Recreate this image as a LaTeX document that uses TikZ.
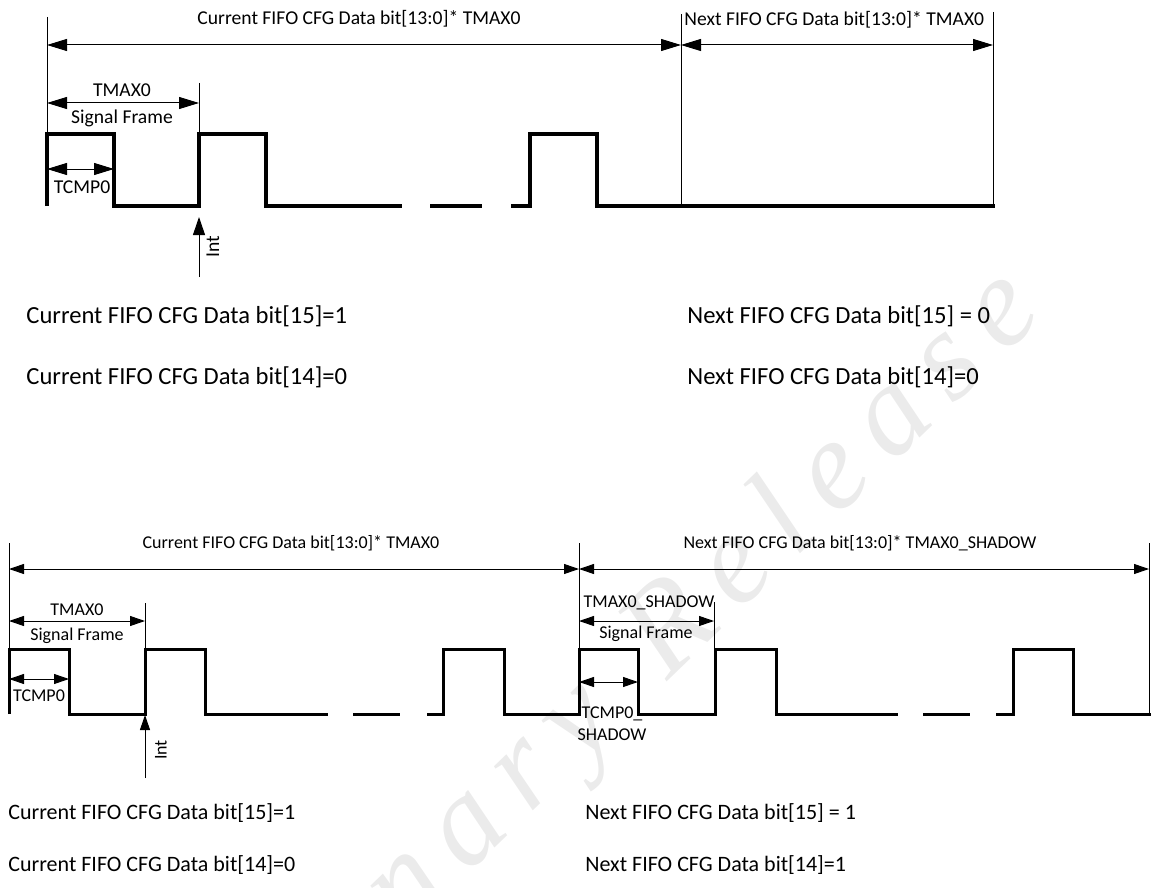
\documentclass[tikz,border=0pt]{standalone}
\usepackage{fontspec}
\setmainfont{Carlito}
\newfontfamily\wmfont{Liberation Serif}
\usetikzlibrary{arrows.meta}
\tikzset{wave/.style={line width=1.6pt,line join=miter},
	guide/.style={line width=0.5pt},
	dimA/.style={line width=0.5pt,{Triangle[length=10pt,width=6pt]}-{Triangle[length=10pt,width=6pt]}},
	dimB/.style={line width=0.5pt,{Triangle[length=7.5pt,width=5pt]}-{Triangle[length=7.5pt,width=5pt]}},
	intA/.style={line width=0.5pt,-{Triangle[length=9pt,width=6pt]}},
	intB/.style={line width=0.5pt,-{Triangle[length=7.5pt,width=5pt]}},
	lblA/.style={inner sep=0pt,font=\fontsize{9.8}{11}\selectfont},
	lblB/.style={inner sep=0pt,font=\fontsize{9}{11}\selectfont},
	noteA/.style={inner sep=0pt,anchor=west,font=\fontsize{12.3}{14}\selectfont},
	noteB/.style={inner sep=0pt,anchor=west,font=\fontsize{11}{13}\selectfont}}
\begin{document}
\begin{tikzpicture}[x=0.5pt,y=-0.5pt]
		\useasboundingbox (0,0) rectangle (1151,888);
		% watermark
		\node[anchor=base east,rotate=44,text=gray!16,inner sep=0pt,font=\wmfont\itshape\fontsize{64}{64}\selectfont] (wm) at (1046,316) {P\,r\,e\,l\,i\,m\,i\,n\,a\,r\,y\ \ R\,e\,l\,e\,a\,s\,e};
		
		% upper timing
		\coordinate (A0) at (47,45);
		\coordinate (A1) at (681,45);
		\coordinate (A2) at (993,45);
		\coordinate (F0) at (47,103);
		\coordinate (F1) at (199,103);
		\coordinate (C0) at (47,169);
		\coordinate (C1) at (114,169);
		\coordinate (I0) at (199,277);
		\coordinate (I1) at (199,217);
		
		\draw[guide] (47,17) -- (47,206);
		\draw[guide] (199,83) -- (199,134);
		\draw[guide] (681,14) -- (681,206);
		\draw[guide] (993,12) -- (993,204);
		
		\draw[wave] (47,206) |- (114,134) |- (199,206) |- (266,134) |- (402,206);
		\draw[wave] (430,206) -- (482,206);
		\draw[wave] (511,206) -| (530,134) -| (597,206) -- (995,206);
		
		\path[dimA] (A0) edge (A1) (A1) edge (A2);
		\path[dimA] (F0) edge (F1);
		\path[dimA] (C0) edge (C1);
		\path[intA] (I0) edge (I1);
		
		\node[lblA] (curLen) at (359,19) {Current FIFO CFG Data bit[13:0]* TMAX0};
		\node[lblA,anchor=west] (nxtLen) at (684,20) {Next FIFO CFG Data bit[13:0]* TMAX0};
		\node[lblA] (tmax) at (122,90) {TMAX0};
		\node[lblA] (frame) at (122,118) {Signal Frame};
		\node[lblA] (tcmp) at (82,187) {TCMP0};
		\node[lblA,rotate=90] (int) at (213,247) {Int};
		
		\node[noteA] (cur15) at (26,316) {Current FIFO CFG Data bit[15]=1};
		\node[noteA] (cur14) at (26,377) {Current FIFO CFG Data bit[14]=0};
		\node[noteA] (nxt15) at (687,316) {Next FIFO CFG Data bit[15] = 0};
		\node[noteA] (nxt14) at (687,377) {Next FIFO CFG Data bit[14]=0};
		
		% lower timing
		\coordinate (B0) at (9,569);
		\coordinate (B1) at (579,569);
		\coordinate (B2) at (1149,569);
		\coordinate (G0) at (9,621);
		\coordinate (G1) at (145,621);
		\coordinate (H0) at (9,679);
		\coordinate (H1) at (69,679);
		\coordinate (S0) at (579,621);
		\coordinate (S1) at (714,621);
		\coordinate (T0) at (579,682);
		\coordinate (T1) at (638,682);
		\coordinate (J0) at (145,778);
		\coordinate (J1) at (145,715);
		
		\draw[guide] (9,543) -- (9,714);
		\draw[guide] (145,603) -- (145,649);
		\draw[guide] (579,543) -- (579,714);
		\draw[guide] (714,602) -- (714,649);
		\draw[guide] (1149,543) -- (1149,714);
		
		\draw[wave,line width=1.5pt] (9,714) |- (69,649) |- (145,714) |- (205,649) |- (328,714);
		\draw[wave,line width=1.5pt] (353,714) -- (400,714);
		\draw[wave,line width=1.5pt] (427,714) -| (443,649) -| (504,714) -- (579,714) |- (638,649) |- (715,714) |- (776,649) |- (898,714);
		\draw[wave,line width=1.5pt] (923,714) -- (970,714);
		\draw[wave,line width=1.5pt] (996,714) -| (1013,649) -| (1073,714) -- (1151,714);
		
		\path[dimB] (B0) edge (B1) (B1) edge (B2);
		\path[dimB] (G0) edge (G1);
		\path[dimB] (H0) edge (H1);
		\path[dimB] (S0) edge (S1);
		\path[dimB] (T0) edge (T1);
		\path[intB] (J0) edge (J1);
		
		\node[lblB] (curLen2) at (291,543) {Current FIFO CFG Data bit[13:0]* TMAX0};
		\node[lblB] (nxtLen2) at (860,543) {Next FIFO CFG Data bit[13:0]* TMAX0\_SHADOW};
		\node[lblB] (tmax2) at (77,610) {TMAX0};
		\node[lblB] (frame2) at (77,636) {Signal Frame};
		\node[lblB] (tcmp2) at (39,696) {TCMP0};
		\node[lblB,rotate=90] (int2) at (161,750) {Int};
		\node[lblB] (tmaxS) at (649,603) {TMAX0\_SHADOW};
		\node[lblB] (frameS) at (646,634) {Signal Frame};
		\node[lblB,align=center] (tcmpS) at (612,724) {TCMP0\_\\SHADOW};
		
		\node[noteB] (cur15b) at (8,813) {Current FIFO CFG Data bit[15]=1};
		\node[noteB] (cur14b) at (8,865) {Current FIFO CFG Data bit[14]=0};
		\node[noteB] (nxt15b) at (585,813) {Next FIFO CFG Data bit[15] = 1};
		\node[noteB] (nxt14b) at (585,865) {Next FIFO CFG Data bit[14]=1};
\end{tikzpicture}
\end{document}
